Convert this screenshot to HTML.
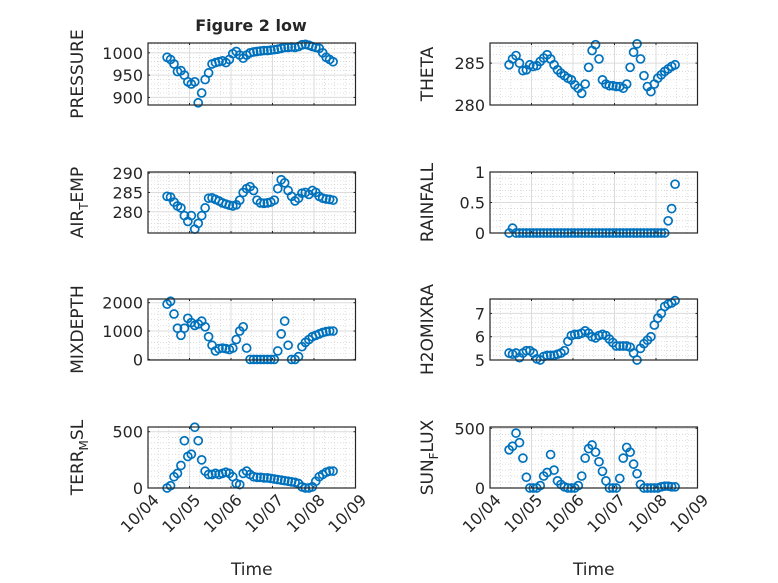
<!DOCTYPE html>
<html><head><meta charset="utf-8"><style>
html,body{margin:0;padding:0;background:#fff}
svg{display:block}
text{font-family:"DejaVu Sans","Liberation Sans",sans-serif;fill:#262626}
</style></head><body>
<svg id="fig" width="778" height="583" xmlns="http://www.w3.org/2000/svg">
<text x="251" y="31" text-anchor="middle" font-size="16" font-weight="bold" fill="#000">Figure 2 low</text>
</svg>
<script>
const hours = [0,2,4,6,8,10,12,14,16,18,20,22,24,26,28,30,32,34,36,38,40,42,44,46,48,50,52,54,56,58,60,62,64,66,68,70,72,74,76,78,80,82,84,86,88,90,92,94,96];
const startDay = 4.46;
const xTickLabels = ["10/04","10/05","10/06","10/07","10/08","10/09"];
const pressure = [990,985,975,958,960,950,935,930,935,888,910,940,955,975,978,980,982,978,985,998,1003,995,988,995,1000,1002,1003,1004,1005,1005,1006,1007,1008,1010,1012,1012,1013,1012,1014,1018,1019,1017,1014,1012,1010,1000,990,985,980];
const theta = [284.8,285.5,285.9,285.0,284.1,284.2,284.8,284.6,284.7,285.2,285.6,286.0,285.5,284.8,284.2,283.8,283.5,283.2,283.0,282.4,282.0,281.4,282.5,284.5,286.5,287.2,285.5,283.0,282.5,282.3,282.3,282.2,282.2,282.0,282.5,284.5,286.3,287.3,285.5,283.5,282.2,281.6,282.5,283.2,283.6,284.0,284.3,284.6,284.8];
const airTemp = [284,283.8,282.5,281.5,281,279,277.5,279,275.5,277,279,281,283.5,283.6,283.2,282.8,282.3,282,281.7,281.5,281.8,283,285,286,286.5,285.5,283,282.3,282.2,282.3,282.5,283,286,288.3,287.5,285.5,284,282.8,283.5,284.8,285,284.5,285.5,285,284,283.5,283.3,283.2,283];
const rainfall = [0,0.08,0,0,0,0,0,0,0,0,0,0,0,0,0,0,0,0,0,0,0,0,0,0,0,0,0,0,0,0,0,0,0,0,0,0,0,0,0,0,0,0,0,0,0,0,0.2,0.4,0.8];
const mixDepth = [1950,2050,1600,1100,850,1100,1450,1300,1200,1250,1350,1150,800,500,300,380,400,380,350,400,700,1000,1150,400,0,0,0,0,0,0,0,0,300,900,1350,500,0,0,100,450,600,700,800,850,900,950,980,1000,1000];
const h2oMix = [5.3,5.25,5.3,5.1,5.3,5.4,5.4,5.3,5.05,5.0,5.15,5.2,5.2,5.2,5.25,5.3,5.4,5.8,6.05,6.1,6.1,6.15,6.25,6.15,6.0,5.95,6.05,6.1,6.05,5.9,5.75,5.6,5.6,5.6,5.6,5.55,5.3,5.0,5.5,5.7,5.85,6.0,6.5,6.8,7.0,7.3,7.4,7.45,7.55];
const terrMsl = [0,20,100,130,200,420,280,300,540,420,250,150,120,120,130,120,130,140,130,100,40,30,130,150,120,100,95,95,90,90,85,80,75,70,65,60,55,50,40,10,0,0,10,60,100,120,140,150,150];
const sunFlux = [320,350,460,380,250,90,0,0,0,20,100,130,280,150,60,30,10,0,0,0,20,100,250,330,360,300,220,140,60,0,0,0,80,250,340,300,200,120,30,0,0,0,0,0,10,15,15,10,10];

const NS='http://www.w3.org/2000/svg';
const svg=document.getElementById('fig');
function el(tag,attrs,parent){const e=document.createElementNS(NS,tag);for(const k in attrs)e.setAttribute(k,attrs[k]);(parent||svg).appendChild(e);return e;}

const cols=[148,490], W=207.5;
const rows=[[43,105],[172,233],[299,360],[427,488]];
const panels=[
 {name:'pressure',data:pressure,c:0,r:0,ylim:[883,1022],ticks:[900,950,1000],minor:10,label:['PRESSURE']},
 {name:'theta',data:theta,c:1,r:0,ylim:[280,287.4],ticks:[280,285],minor:1,label:['THETA']},
 {name:'air-temp',data:airTemp,c:0,r:1,ylim:[274.5,290.3],ticks:[280,285,290],minor:1,label:['AIR','T','EMP']},
 {name:'rainfall',data:rainfall,c:1,r:1,ylim:[0,1],ticks:[0,0.5,1],minor:0.1,label:['RAINFALL']},
 {name:'mix-depth',data:mixDepth,c:0,r:2,ylim:[-20,2130],ticks:[0,1000,2000],minor:200,label:['MIXDEPTH']},
 {name:'h2o-mix',data:h2oMix,c:1,r:2,ylim:[5,7.62],ticks:[5,6,7],minor:0.2,label:['H2OMIXRA']},
 {name:'terr-msl',data:terrMsl,c:0,r:3,ylim:[0,542],ticks:[0,500],minor:50,label:['TERR','M','SL']},
 {name:'sun-flux',data:sunFlux,c:1,r:3,ylim:[0,511],ticks:[0,500],minor:50,label:['SUN','F','LUX']}
];

panels.forEach(p=>{
  const x0=cols[p.c], y0=rows[p.r][0], y1=rows[p.r][1], H=y1-y0;
  const xs=d=>x0+(d-4)/5*W;
  const ys=v=>y1-(v-p.ylim[0])/(p.ylim[1]-p.ylim[0])*H;
  const g=el('g',{});
  
  
  for(let d=4;d<=9.001;d+=0.25){
    if(Math.abs(d-Math.round(d))<1e-6)continue;
    const x=xs(d);
    el('line',{x1:x,x2:x,y1:y0,y2:y1,stroke:'#c8c8c8','stroke-width':0.6,'stroke-dasharray':'1,2'},g);
  }
  const s0=Math.ceil(p.ylim[0]/p.minor)*p.minor;
  for(let v=s0;v<=p.ylim[1]+1e-9;v+=p.minor){
    if(p.ticks.some(t=>Math.abs(t-v)<1e-6))continue;
    const y=ys(v);
    el('line',{x1:x0,x2:x0+W,y1:y,y2:y,stroke:'#c8c8c8','stroke-width':0.6,'stroke-dasharray':'1,2'},g);
  }
  for(let d=5;d<=8;d++){const x=xs(d);el('line',{x1:x,x2:x,y1:y0,y2:y1,stroke:'#dcdcdc','stroke-width':1},g);}
  p.ticks.forEach(t=>{const y=ys(t);
    el('line',{x1:x0,x2:x0+W,y1:y,y2:y,stroke:'#dcdcdc','stroke-width':1},g);
    el('line',{x1:x0,x2:x0+2,y1:y,y2:y,stroke:'#262626','stroke-width':1},g);
    el('line',{x1:x0+W-2,x2:x0+W,y1:y,y2:y,stroke:'#262626','stroke-width':1},g);
    const tl=el('text',{x:x0-5,y:y+6,'text-anchor':'end','font-size':16},g);
    tl.textContent=String(t);
    
    
  });
  for(let d=4;d<=9;d++){const x=xs(d);
    el('line',{x1:x,x2:x,y1:y1,y2:y1-2,stroke:'#262626','stroke-width':1},g);
    el('line',{x1:x,x2:x,y1:y0,y2:y0+2,stroke:'#262626','stroke-width':1},g);
  }
  p.data.forEach((v,i)=>{
    const c=el('circle',{cx:xs(startDay+hours[i]/24),cy:ys(v),r:4,fill:'none',stroke:'#0072BD','stroke-width':1.7},g);
    
    
  });
  const box=el('rect',{x:x0,y:y0,width:W,height:H,fill:'none',stroke:'#262626','stroke-width':1.2},g);
  
  
  const lx=p.c===0?83:433, ly=(y0+y1)/2;
  const yl=el('text',{transform:`translate(${lx},${ly}) rotate(-90)`,'text-anchor':'middle','font-size':17},g);
  
  
  if(p.label.length===1){yl.textContent=p.label[0];}
  else{
    const a=el('tspan',{},yl);a.textContent=p.label[0];
    const b=el('tspan',{dy:5,'font-size':12},yl);b.textContent=p.label[1];
    const c=el('tspan',{dy:-5},yl);c.textContent=p.label[2];
  }
  if(p.r===3){
    xTickLabels.forEach((lab,k)=>{
      const x=xs(4+k);
      const t=el('text',{transform:`translate(${x+12},${y1+13}) rotate(-45)`,'text-anchor':'end','font-size':16},g);
      t.textContent=lab;
      
      
    });
    const xt=el('text',{x:x0+W/2,y:575,'text-anchor':'middle','font-size':17},g);
    xt.textContent='Time';
    
    
  }
});
</script>
</body></html>
